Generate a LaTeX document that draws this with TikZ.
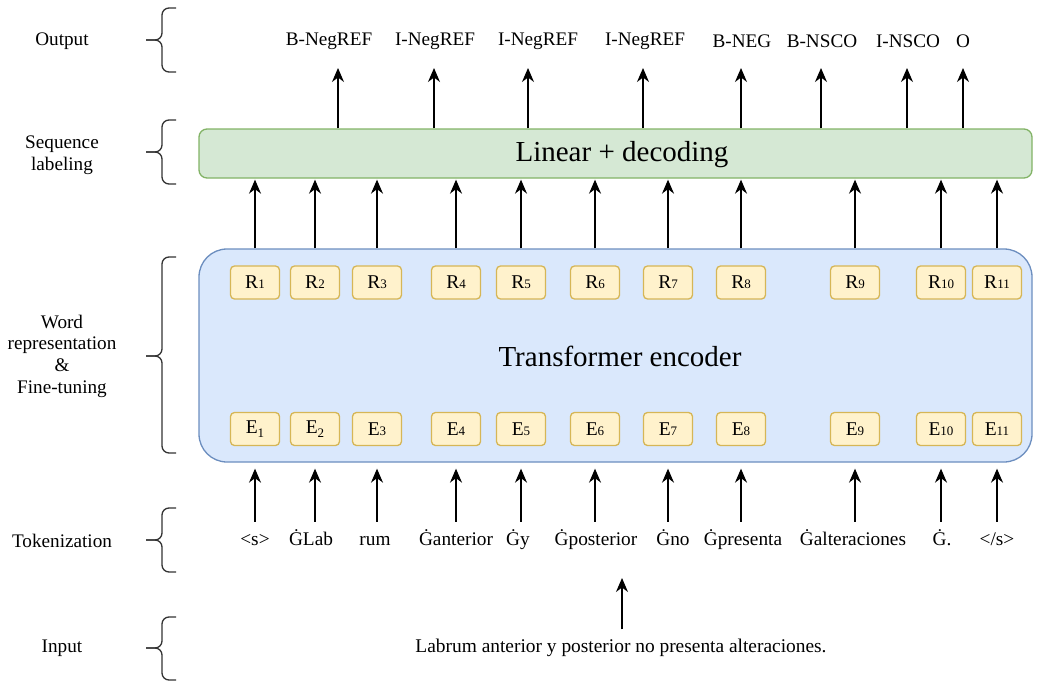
\documentclass[tikz,border=0pt]{standalone}
\usepackage{fontspec}
\setmainfont{Liberation Serif}
\usetikzlibrary{arrows.meta}
\definecolor{gbg}{HTML}{D5E8D4}
\definecolor{gbd}{HTML}{82B366}
\definecolor{bbg}{HTML}{DAE8FC}
\definecolor{bbd}{HTML}{6C8EBF}
\definecolor{ybg}{HTML}{FFF2CC}
\definecolor{ybd}{HTML}{D6B656}
\newcommand\sm[1]{{\fontsize{13}{13}\selectfont #1}}
\newcommand\lo[1]{\raisebox{-4pt}{\fontsize{13}{13}\selectfont #1}}
\newcommand\mybrace[3]{%
  \draw[brc] (176,#1) -- (162,#1) -- (162,#2) -- (146,#2);
  \draw[brc] (146,#2) -- (162,#2) -- (162,#3) -- (176,#3);}
\begin{document}
\begin{tikzpicture}[x=1pt,y=-1pt,
  lab/.style={font=\fontsize{19.2}{21.7}\selectfont, align=center, inner sep=0pt},
  tok/.style={font=\fontsize{19.3}{21}\selectfont, inner sep=1pt, text height=13pt, text depth=4pt},
  outl/.style={font=\fontsize{19.2}{21}\selectfont, inner sep=1pt},
  cell/.style={draw=ybd, fill=ybg, line width=1.3pt, rounded corners=4pt, minimum width=49pt, minimum height=33pt, inner sep=0pt, font=\fontsize{19.5}{19.5}\selectfont},
  arr/.style={-{Stealth[length=14pt,width=12pt]}, line width=1.4pt},
  brc/.style={line width=1.3pt, rounded corners=7pt, draw=black!80},
]
\useasboundingbox (0,0) rectangle (1045,683);

% left labels
\node[lab] (lOut) at (62,41) {Output};
\node[lab] (lSeq) at (62,155) {Sequence\\labeling};
\node[lab] (lWord) at (62,356) {Word\\representation\\\&\\Fine-tuning};
\node[lab] (lTok) at (62,541) {Tokenization};
\node[lab] (lIn) at (62,648) {Input};

% braces
\mybrace{8}{40}{72}
\mybrace{120}{152}{184}
\mybrace{257}{356}{453}
\mybrace{508}{540}{572}
\mybrace{617}{648}{680}

% main boxes
\node[draw=gbd, fill=gbg, line width=1.3pt, rounded corners=8pt, minimum width=833pt, minimum height=49pt, inner sep=0pt] (lin) at (615.5,153.5) {};
\node[font=\fontsize{29}{29}\selectfont, inner sep=0pt] (linT) at (622,155) {Linear + decoding};
\node[draw=bbd, fill=bbg, line width=1.3pt, rounded corners=28pt, minimum width=833pt, minimum height=213pt, inner sep=0pt] (enc) at (615.5,355.5) {};
\node[font=\fontsize{29}{29}\selectfont, inner sep=0pt] (encT) at (620,356) {Transformer encoder};

% R cells
\node[cell] (r1) at (255,282.5) {R\sm{1}};
\node[cell] (r2) at (315,282.5) {R\sm{2}};
\node[cell] (r3) at (377,282.5) {R\sm{3}};
\node[cell] (r4) at (456,282.5) {R\sm{4}};
\node[cell] (r5) at (521,282.5) {R\sm{5}};
\node[cell] (r6) at (595,282.5) {R\sm{6}};
\node[cell] (r7) at (668,282.5) {R\sm{7}};
\node[cell] (r8) at (741,282.5) {R\sm{8}};
\node[cell] (r9) at (855,282.5) {R\sm{9}};
\node[cell] (r10) at (941,282.5) {R\sm{10}};
\node[cell] (r11) at (997,282.5) {R\sm{11}};

% E cells
\node[cell] (e1) at (255,429) {E\lo{1}};
\node[cell] (e2) at (315,429) {E\lo{2}};
\node[cell] (e3) at (377,429) {E\sm{3}};
\node[cell] (e4) at (456,429) {E\sm{4}};
\node[cell] (e5) at (521,429) {E\sm{5}};
\node[cell] (e6) at (595,429) {E\sm{6}};
\node[cell] (e7) at (668,429) {E\sm{7}};
\node[cell] (e8) at (741,429) {E\sm{8}};
\node[cell] (e9) at (855,429) {E\sm{9}};
\node[cell] (e10) at (941,429) {E\sm{10}};
\node[cell] (e11) at (997,429) {E\sm{11}};

% tokens
\node[tok] (t1) at (255,541) {<s>};
\node[tok] (t2) at (311,541) {ĠLab};
\node[tok] (t3) at (375,541) {rum};
\node[tok] (t4) at (456,541) {Ġanterior};
\node[tok] (t5) at (518,541) {Ġy};
\node[tok] (t6) at (596,541) {Ġposterior};
\node[tok] (t7) at (673,541) {Ġno};
\node[tok] (t8) at (743,541) {Ġpresenta};
\node[tok] (t9) at (853,541) {Ġalteraciones};
\node[tok] (t10) at (942,541) {Ġ.};
\node[tok] (t11) at (997,541) {</s>};

% input
\node[tok, font=\fontsize{19.4}{21}\selectfont] (inp) at (621,648) {Labrum anterior y posterior no presenta alteraciones.};
\coordinate (inTip) at (622,578);
\draw[arr, shorten <=9pt] (inp.north -| inTip) -- (inTip);

% token -> encoder arrows
\foreach \i in {1,...,11} {
  \draw[arr, shorten <=9.5pt, shorten >=6pt] (t\i.north -| e\i) -- (e\i |- enc.south);
}
% encoder -> linear arrows
\foreach \i in {1,...,11} {
  \draw[arr, shorten >=1pt] (r\i |- enc.north) -- (r\i |- lin.south);
}

% output labels
\node[outl] (o1) at (329,41) {B-NegREF};
\node[outl] (o2) at (435,41) {I-NegREF};
\node[outl] (o3) at (538,41) {I-NegREF};
\node[outl] (o4) at (645,41) {I-NegREF};
\node[outl] (o5) at (742,41) {B-NEG};
\node[outl] (o6) at (822,41) {B-NSCO};
\node[outl] (o7) at (908,41) {I-NSCO};
\node[outl] (o8) at (963,41) {O};

\coordinate (a1) at (338,68);
\coordinate (a2) at (434,68);
\coordinate (a3) at (528,68);
\coordinate (a4) at (643,68);
\coordinate (a5) at (741,68);
\coordinate (a6) at (821,68);
\coordinate (a7) at (907,68);
\coordinate (a8) at (963,68);
\foreach \i in {1,...,8} {
  \draw[arr] (a\i |- lin.north) -- (a\i);
}
\end{tikzpicture}
\end{document}
